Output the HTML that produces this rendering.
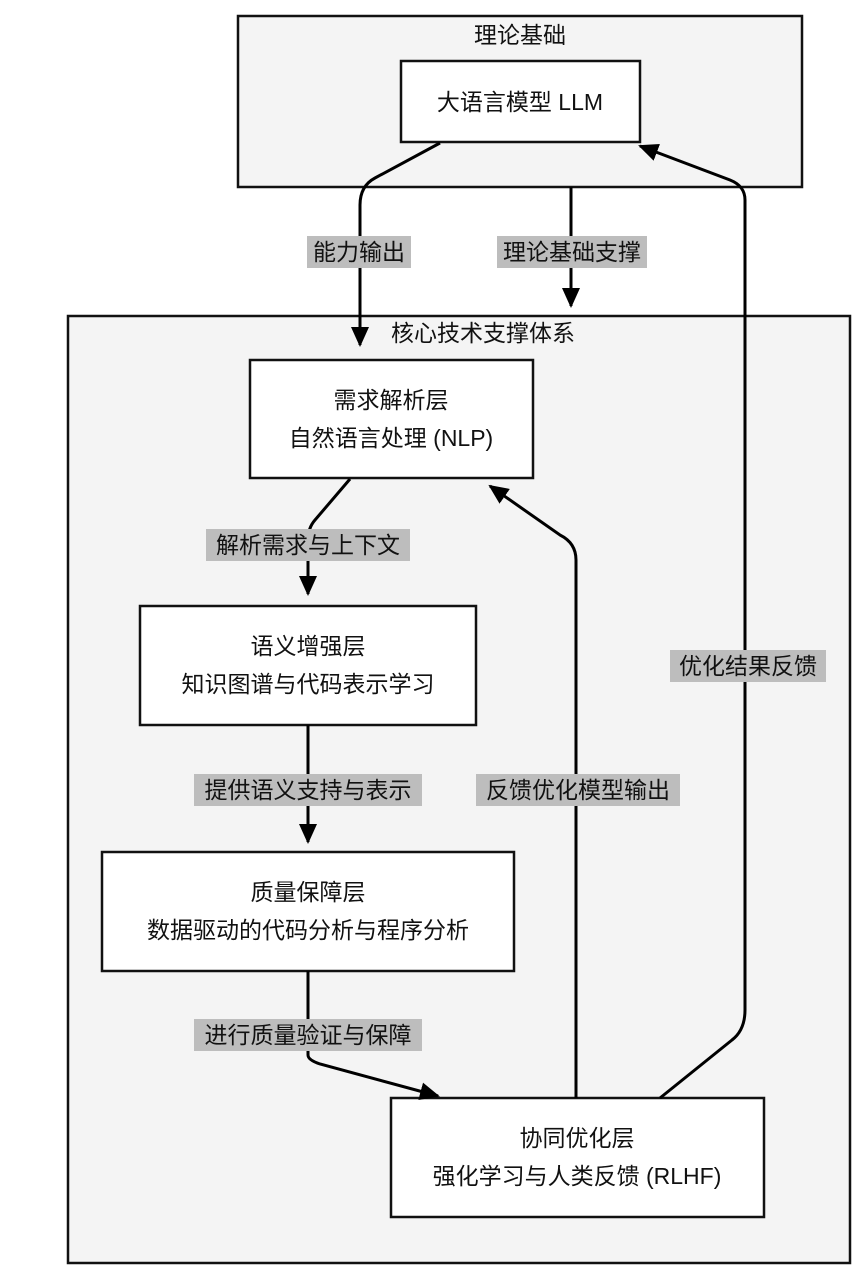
<!DOCTYPE html>
<html><head><meta charset="utf-8"><style>
body{margin:0;background:#fff;}
svg text{font-family:"Liberation Sans","Noto Sans CJK SC",sans-serif;font-size:23px;fill:#111;}
</style></head><body>
<svg width="866" height="1280" viewBox="0 0 866 1280" xmlns="http://www.w3.org/2000/svg">
<defs>
<marker id="b" markerWidth="22" markerHeight="22" refX="18" refY="11" orient="auto" markerUnits="userSpaceOnUse" viewBox="0 0 22 22"><path d="M0,2 L20,11 L0,20 z" fill="#000"/></marker></defs>
<rect x="238" y="16" width="564" height="171" fill="#f4f4f4" stroke="#111" stroke-width="2.5"/>
<text x="520" y="43" text-anchor="middle">理论基础</text>
<rect x="68" y="316" width="782" height="947" fill="#f4f4f4" stroke="#111" stroke-width="2.5"/>
<text x="483" y="341" text-anchor="middle">核心技术支撑体系</text>
<g fill="#fff" stroke="#111" stroke-width="2.5">
<rect x="401" y="61" width="239" height="81"/>
<rect x="250" y="360" width="283" height="118"/>
<rect x="140" y="606" width="336" height="119"/>
<rect x="102" y="852" width="412" height="119"/>
<rect x="391" y="1098" width="373" height="119"/>
</g>
<text x="520" y="110" text-anchor="middle">大语言模型 LLM</text>
<text x="391" y="408" text-anchor="middle">需求解析层</text>
<text x="391" y="446" text-anchor="middle">自然语言处理 (NLP)</text>
<text x="308" y="654" text-anchor="middle">语义增强层</text>
<text x="308" y="692" text-anchor="middle">知识图谱与代码表示学习</text>
<text x="308" y="900" text-anchor="middle">质量保障层</text>
<text x="308" y="938" text-anchor="middle">数据驱动的代码分析与程序分析</text>
<text x="577" y="1146" text-anchor="middle">协同优化层</text>
<text x="577" y="1184" text-anchor="middle">强化学习与人类反馈 (RLHF)</text>
<g fill="none" stroke="#000" stroke-width="3" marker-end="url(#b)">
<path d="M440,143 L375,178 Q360,186 360,205 L360,345"/>
<path d="M571,187 L571,306"/>
<path d="M350,479 L315,520 Q308,528 308,540 L308,594"/>
<path d="M308,725 L308,842"/>
<path d="M308,971 L308,1055 Q308,1060 320,1064 L438,1096"/>
<path d="M576,1098 L576,560 Q576,543 560,535 L490,486"/>
<path d="M660,1098 L732,1040 Q745,1030 745,1010 L745,200 Q745,186 730,180 L640,146"/>
</g>
<g fill="#bdbdbd">
<rect x="307" y="236" width="104" height="32"/>
<rect x="497" y="236" width="150" height="32"/>
<rect x="206" y="529" width="204" height="32"/>
<rect x="194" y="774" width="228" height="32"/>
<rect x="194" y="1019" width="228" height="32"/>
<rect x="476" y="774" width="204" height="32"/>
<rect x="670" y="650" width="156" height="32"/>
</g>
<text x="359" y="260" text-anchor="middle">能力输出</text>
<text x="572" y="260" text-anchor="middle">理论基础支撑</text>
<text x="308" y="553" text-anchor="middle">解析需求与上下文</text>
<text x="308" y="798" text-anchor="middle">提供语义支持与表示</text>
<text x="308" y="1043" text-anchor="middle">进行质量验证与保障</text>
<text x="578" y="798" text-anchor="middle">反馈优化模型输出</text>
<text x="748" y="674" text-anchor="middle">优化结果反馈</text>
</svg>
</body></html>
